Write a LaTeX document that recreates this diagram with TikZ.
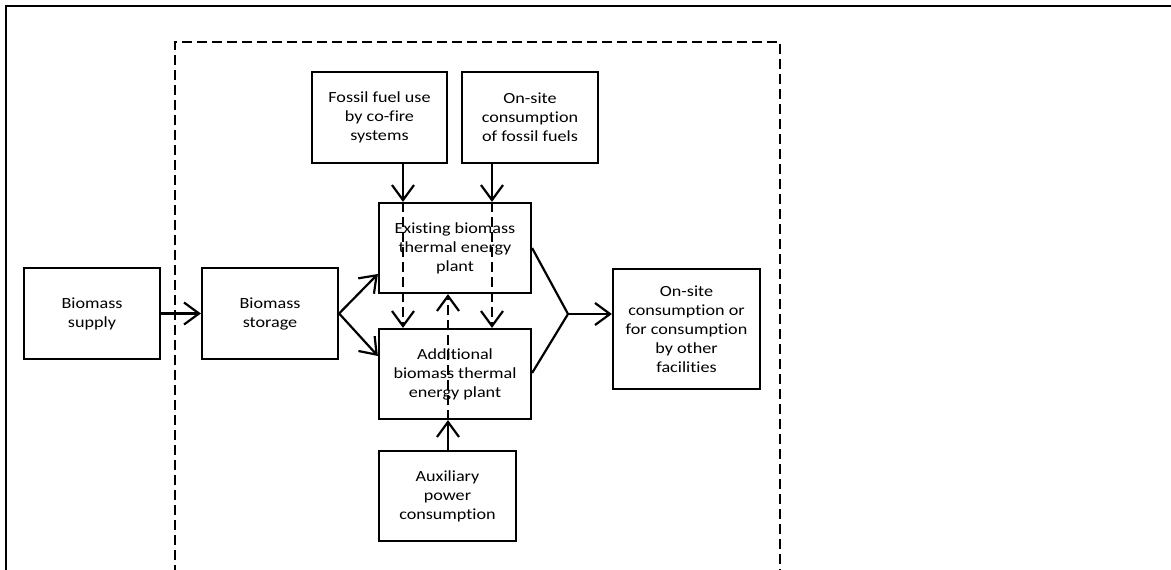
\documentclass[tikz,border=0pt]{standalone}
\usepackage{fontspec}
\setmainfont{Carlito}[FakeStretch=1.17, Ligatures=NoCommon]
\usetikzlibrary{arrows.meta}
\begin{document}
\begin{tikzpicture}[x=1pt,y=-1pt,
  box/.style={draw, line width=2.2pt, align=center, inner sep=0pt, font=\fontsize{15.5}{19}\selectfont},
  arr/.style={line width=2.2pt, -{Straight Barb[length=15pt,width=22pt,line width=2.2pt]}},
  dashline/.style={dash pattern=on 10pt off 5pt},
  conn/.style={line width=2.2pt}
]
\useasboundingbox (0,0) rectangle (1171,570);
% frames
\draw[conn] (6,575) -- (6,6) -- (1175,6);
\draw[line width=2pt, dashline] (175,575) -- (175,42) -- (780,42) -- (780,575);
% nodes
\node[box, minimum width=136pt, minimum height=91pt] (supply) at (92,313.5) {Biomass\\supply};
\node[box, minimum width=136pt, minimum height=91pt] (storage) at (270,313.5) {Biomass\\storage};
\node[box, minimum width=152pt, minimum height=90pt] (existing) at (455,248) {Existing biomass\\thermal energy\\plant};
\node[box, minimum width=152pt, minimum height=90pt] (additional) at (455,374) {Additional\\biomass thermal\\energy plant};
\node[box, minimum width=135pt, minimum height=91pt] (fossil) at (379.5,117.5) {Fossil fuel use\\by co-fire\\systems};
\node[box, minimum width=136pt, minimum height=91pt] (onsitefossil) at (530,117.5) {On-site\\consumption\\of fossil fuels};
\node[box, minimum width=137pt, minimum height=90pt] (aux) at (447.5,496) {Auxiliary\\power\\consumption};
\node[box, minimum width=147pt, minimum height=120pt] (output) at (686.5,329) {On-site\\consumption or\\for consumption\\by other\\facilities};
% helper coordinates
\coordinate (c1) at (403,0);
\coordinate (c2) at (492,0);
\coordinate (c3) at (448,0);
\coordinate (m) at (568,314);
% connectors
\draw[arr] (supply.east) -- (storage.west);
\draw[arr] (storage.east) -- ([yshift=-26pt]existing.west);
\draw[arr] (storage.east) -- ([yshift=18pt]additional.west);
\draw[arr] (fossil.south -| c1) -- (existing.north -| c1);
\draw[arr, dashline] (existing.north -| c1) -- (additional.north -| c1);
\draw[arr] (onsitefossil.south -| c2) -- (existing.north -| c2);
\draw[arr, dashline] (existing.north -| c2) -- (additional.north -| c2);
\draw[arr] (aux.north -| c3) -- (additional.south -| c3);
\draw[arr, dashline] (additional.south -| c3) -- (existing.south -| c3);
\draw[conn] (existing.east) -- (m) -- ([yshift=1pt]additional.east);
\draw[arr] (m) -- (m -| output.west);
\end{tikzpicture}
\end{document}
